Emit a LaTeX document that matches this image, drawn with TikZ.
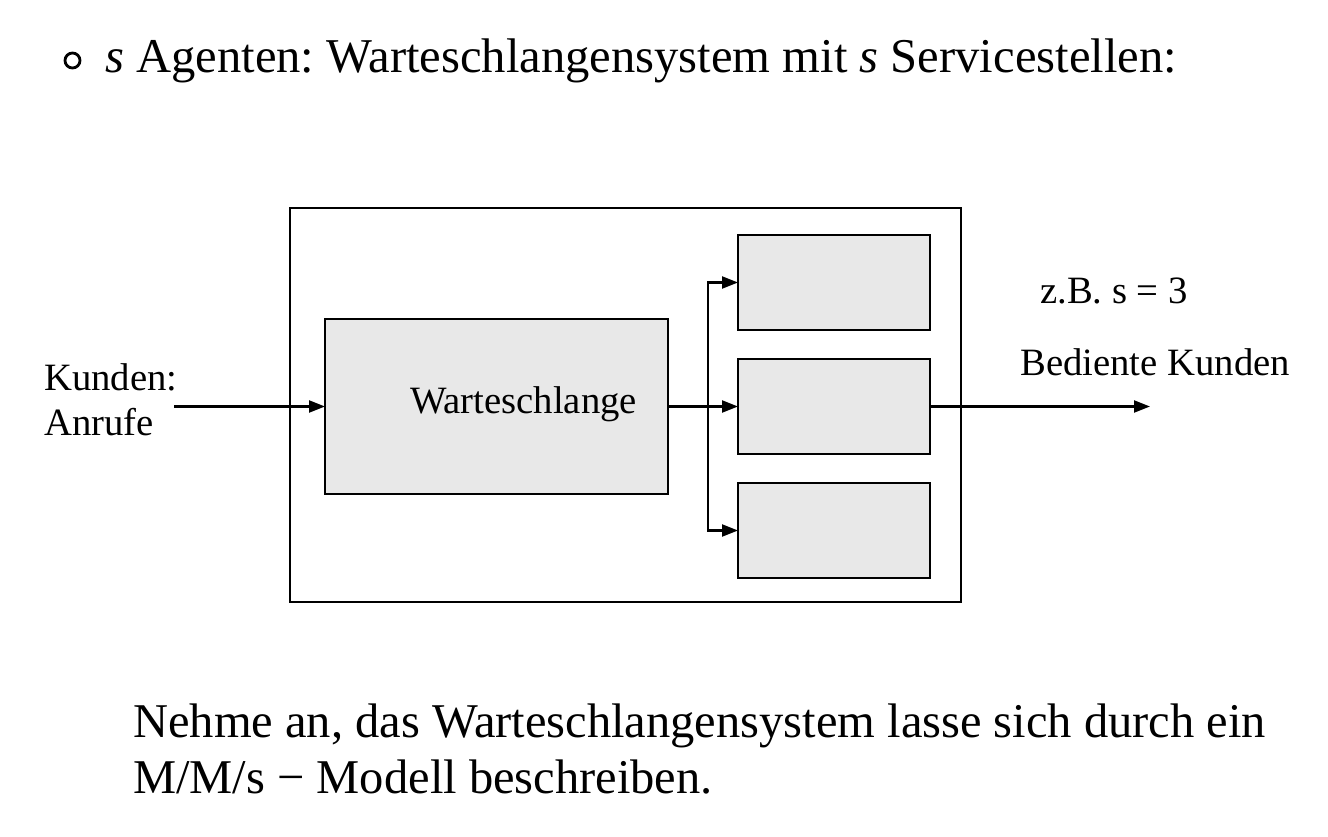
\documentclass[tikz,border=0pt]{standalone}
\usepackage{fontspec}
\setmainfont{Liberation Serif}
\usetikzlibrary{arrows.meta}
\begin{document}
\frenchspacing
\begin{tikzpicture}[x=1pt,y=-1pt,
  box/.style={draw=black,line width=1.6pt,inner sep=0pt,outer sep=0pt},
  graybox/.style={box,fill=black!9},
  arr/.style={line width=2.2pt,-{Triangle[length=16pt,width=12pt]}},
  lbl/.style={anchor=base west,inner sep=0pt,font=\fontsize{38.7}{44}\selectfont\frenchspacing},
  big/.style={anchor=base west,inner sep=0pt,font=\fontsize{48.5}{56}\selectfont\frenchspacing},
  title/.style={anchor=base west,inner sep=0pt,font=\fontsize{48.6}{58}\selectfont\frenchspacing}]
\useasboundingbox (0,0) rectangle (1328,836);
% title
\draw[line width=2.8pt] (72.5,60.5) circle (7.5);
\node[title] (t) at (105,72) {\textit{s} Agenten: Warteschlangensystem mit \textit{s} Servicestellen:};
% system box
\node[box,minimum width=671,minimum height=394] (sys) at (625.5,405) {};
\node[graybox,minimum width=343,minimum height=175] (queue) at (496.5,406.5) {};
\node[lbl] (ql) at (410,413) {Warteschlange};
\node[graybox,minimum width=192,minimum height=95] (s1) at (834,282.5) {};
\node[graybox,minimum width=192,minimum height=95] (s2) at (834,406.5) {};
\node[graybox,minimum width=192,minimum height=95] (s3) at (834,530.5) {};
% labels
\node[lbl] (k1) at (44,390) {Kunden:};
\node[lbl] (k2) at (44,435) {Anrufe};
\node[lbl] (zb) at (1040,303) {z.B. s = 3};
\node[lbl] (bk) at (1020,375) {Bediente Kunden};
% connectors
\coordinate (in) at (174,406.5);
\coordinate (br) at (708,406.5);
\coordinate (out) at (1150,406.5);
\draw[arr] (in) -- (queue.west);
\draw[arr] (queue.east) -- (s2.west);
\draw[arr] (br) |- (s1.west);
\draw[arr] (br) |- (s3.west);
\draw[arr] (s2.east) -- (out);
% bottom text
\node[big] (b1) at (133,737) {Nehme an, das Warteschlangensystem lasse sich durch ein};
\node[big] (b2) at (133,793) {M/M/s − Modell beschreiben.};
\end{tikzpicture}
\end{document}
